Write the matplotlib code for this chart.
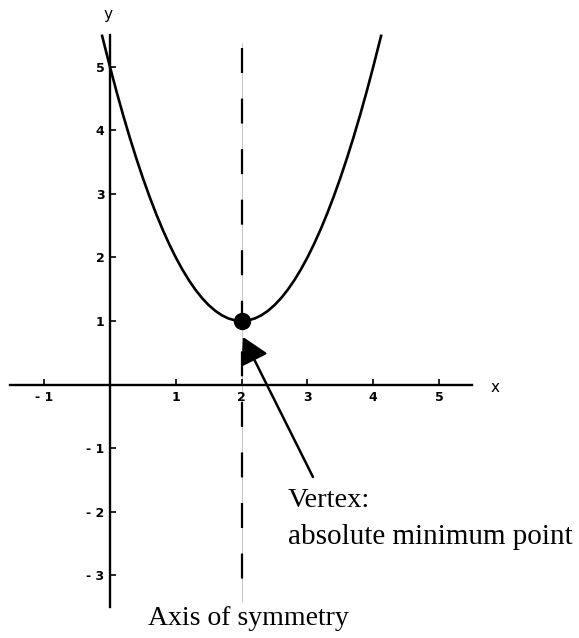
import numpy as np
import matplotlib
matplotlib.use("Agg")
import matplotlib.pyplot as plt

plt.rcParams['lines.scale_dashes'] = False

# parabola points
curve_x = [-0.12, 0.0, 0.1, 0.2, 0.3, 0.4, 0.5, 0.6, 0.7, 0.8, 0.9, 1.0,
           1.1, 1.2, 1.3, 1.4, 1.5, 1.6, 1.7, 1.8, 1.9, 2.0,
           2.1, 2.2, 2.3, 2.4, 2.5, 2.6, 2.7, 2.8, 2.9, 3.0,
           3.1, 3.2, 3.3, 3.4, 3.5, 3.6, 3.7, 3.8, 3.9, 4.0, 4.12]
curve_y = [5.49, 5.00, 4.61, 4.24, 3.89, 3.56, 3.25, 2.96, 2.69, 2.44, 2.21, 2.00,
           1.81, 1.64, 1.49, 1.36, 1.25, 1.16, 1.09, 1.04, 1.01, 1.00,
           1.01, 1.04, 1.09, 1.16, 1.25, 1.36, 1.49, 1.64, 1.81, 2.00,
           2.21, 2.44, 2.69, 2.96, 3.25, 3.56, 3.89, 4.24, 4.61, 5.00, 5.49]

vertex = (2, 1)
sym_x = 2

xticks = [-1, 1, 2, 3, 4, 5]
xlabels = ['- 1', '1', '2', '3', '4', '5']
yticks = [-3, -2, -1, 1, 2, 3, 4, 5]
ylabels = ['- 3', '- 2', '- 1', '1', '2', '3', '4', '5']

fig = plt.figure(figsize=(5.79, 6.38), dpi=100)
ax = fig.add_axes([0, 0, 1, 1])
ax.set_xlim(-1.672, 7.128)
ax.set_ylim(-3.992, 6.055)

for s in ['top', 'right']:
    ax.spines[s].set_visible(False)
ax.spines['left'].set_position(('data', 0))
ax.spines['bottom'].set_position(('data', 0))
ax.spines['left'].set_bounds(-3.5, 5.5)
ax.spines['bottom'].set_bounds(-1.52, 5.5)
ax.spines['left'].set_linewidth(1.7)
ax.spines['bottom'].set_linewidth(1.7)

ax.set_xticks(xticks, xlabels)
ax.set_yticks(yticks, ylabels)
ax.tick_params(axis='x', direction='in', length=4, width=1.2, pad=5, labelsize=9)
ax.tick_params(axis='y', direction='in', length=4, width=1.2, pad=4, labelsize=9)
for lab in ax.get_xticklabels() + ax.get_yticklabels():
    lab.set_fontweight('bold')

# axis of symmetry: thin grey line under the dashes
ax.plot([sym_x, sym_x], [5.38, -3.43], color='#bbbbbb', lw=0.6, zorder=1)
ax.plot([sym_x, sym_x], [5.30, -3.43], color='black', lw=1.6,
        dashes=(18, 18.4), zorder=2)

ax.plot(curve_x, curve_y, color='black', lw=1.9, zorder=3)
ax.plot(*vertex, 'o', color='black', ms=11.5, zorder=4)

ax.annotate('', xy=(2.02, 0.75), xytext=(3.085, -1.457),
            arrowprops=dict(arrowstyle='-|>,head_length=0.8,head_width=0.45',
                            mutation_scale=20, lw=1.8, color='black',
                            shrinkA=0, shrinkB=0), zorder=5)

ax.text(-0.03, 5.82, 'y', fontsize=11, ha='center', va='center')
ax.text(5.85, -0.04, 'x', fontsize=11, ha='center', va='center')

serif = 'Liberation Serif'
ax.text(2.705, -1.93, 'Vertex:', family=serif, fontsize=20.5, va='baseline')
ax.text(2.705, -2.51, 'absolute minimum point', family=serif, fontsize=21, va='baseline')
ax.text(0.578, -3.787, 'Axis of symmetry', family=serif, fontsize=20, va='baseline')

fig.savefig('out.png', dpi=100)
